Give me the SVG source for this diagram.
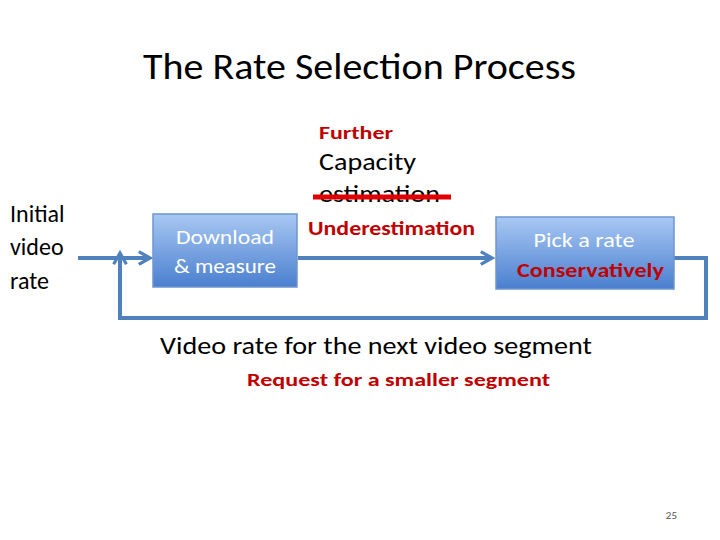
<svg xmlns="http://www.w3.org/2000/svg" width="720" height="540" viewBox="0 0 720 540">
<defs>
<linearGradient id="g" x1="0" y1="0" x2="0" y2="1"><stop offset="0" stop-color="#a9c8f3"/><stop offset="1" stop-color="#4a7fcf"/></linearGradient>
<marker id="a" viewBox="0 0 10 10" refX="8" refY="5" markerWidth="4" markerHeight="4" orient="auto"><path d="M1,1 L8,5 L1,9" fill="none" stroke="#4f81bd" stroke-width="2"/></marker>
<style>
text{font-family:Carlito,Calibri,"Liberation Sans",sans-serif}
.box{fill:url(#g);stroke:#6c96cf;stroke-width:1.5}
.c{fill:none;stroke:#4f81bd;stroke-width:4}
.w{fill:#fff;font-size:21px;text-anchor:middle}
.r{fill:#c00000;font-weight:bold}
</style>
</defs>
<rect width="720" height="540" fill="#fff"/>
<text x="143" y="79" font-size="36" textLength="433" lengthAdjust="spacingAndGlyphs">The Rate Selection Process</text>
<g id="initial"><text font-size="24"><tspan x="10" y="222">Initial</tspan><tspan x="10" y="255">video</tspan><tspan x="10" y="289">rate</tspan></text></g>
<g id="connectors">
<line class="c" x1="78" y1="258" x2="150" y2="258" marker-end="url(#a)"/>
<line class="c" x1="298" y1="258" x2="492" y2="258" marker-end="url(#a)"/>
<polyline class="c" points="674,258 706,258 706,318 120,318 120,253" marker-end="url(#a)"/>
</g>
<g id="download"><rect class="box" x="153" y="214" width="144" height="73"/><text class="w" x="225" y="244" textLength="98" lengthAdjust="spacingAndGlyphs">Download</text><text class="w" x="225" y="273" textLength="102" lengthAdjust="spacingAndGlyphs">&amp; measure</text></g>
<g id="pick"><rect class="box" x="496" y="217" width="178" height="72"/><text class="w" x="584" y="247" textLength="101" lengthAdjust="spacingAndGlyphs">Pick a rate</text><text class="r" x="517" y="277" font-size="20" textLength="147" lengthAdjust="spacingAndGlyphs">Conservatively</text></g>
<g id="estimate">
<text class="r" x="319" y="139" font-size="19" textLength="74" lengthAdjust="spacingAndGlyphs">Further</text>
<text x="319" y="170" font-size="24" textLength="97" lengthAdjust="spacingAndGlyphs">Capacity</text>
<text x="319" y="202" font-size="24" textLength="121" lengthAdjust="spacingAndGlyphs">estimation</text>
<line x1="313" y1="197" x2="451" y2="197" stroke="#e00000" stroke-width="5"/>
<text class="r" x="308" y="235" font-size="20" textLength="167" lengthAdjust="spacingAndGlyphs">Underestimation</text>
</g>
<g id="next">
<text x="160" y="354" font-size="24" textLength="432" lengthAdjust="spacingAndGlyphs">Video rate for the next video segment</text>
<text class="r" x="247" y="386" font-size="19" textLength="303" lengthAdjust="spacingAndGlyphs">Request for a smaller segment</text>
</g>
<text x="677" y="519" font-size="11" fill="#555" text-anchor="end">25</text>
</svg>
